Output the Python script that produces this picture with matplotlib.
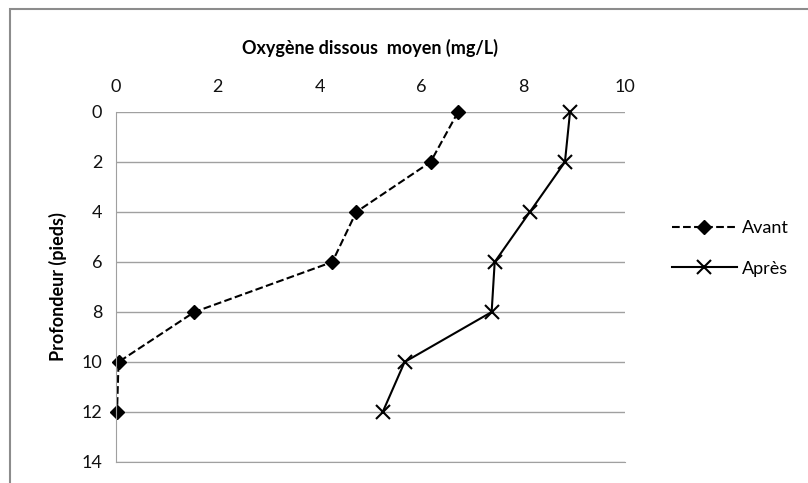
import matplotlib.pyplot as plt
from matplotlib.patches import Rectangle

plt.rcParams['font.family'] = ['Lato', 'DejaVu Sans']

# profondeur (pieds)
depth = [0, 2, 4, 6, 8, 10, 12]
# oxygène dissous moyen (mg/L)
avant = [6.72, 6.18, 4.72, 4.25, 1.54, 0.05, 0.02]
apres = [8.92, 8.82, 8.13, 7.44, 7.38, 5.67, 5.24]

x_ticks = [0, 2, 4, 6, 8, 10]
y_ticks = [0, 2, 4, 6, 8, 10, 12, 14]

fig = plt.figure(figsize=(8.08, 4.83), dpi=100)
fig.patches.append(Rectangle((10 / 808, -0.1), 1.2, 1 - 9 / 483 + 0.1,
                             transform=fig.transFigure, fill=False,
                             edgecolor='#8c8c8c', linewidth=1.5))

ax = fig.add_axes([116 / 808, 1 - 462 / 483, (625 - 116) / 808, (462 - 112) / 483])

ax.plot(avant, depth, color='black', linestyle='--', linewidth=1.5,
        marker='D', markersize=7, label='Avant', clip_on=False)
ax.plot(apres, depth, color='black', linestyle='-', linewidth=1.5,
        marker='x', markersize=10, markeredgewidth=1.5, label='Après', clip_on=False)

ax.set_xlim(0, 10)
ax.set_ylim(14, 0)
ax.set_xticks(x_ticks)
ax.set_yticks(y_ticks)
ax.xaxis.tick_top()
ax.xaxis.set_label_position('top')
ax.tick_params(length=0, labelsize=13, pad=10, colors='#111111')
ax.tick_params(axis='x', pad=12)
ax.grid(axis='y', color='#a0a0a0', linewidth=1)
ax.set_axisbelow(True)
for s in ['top', 'right']:
    ax.spines[s].set_visible(False)
ax.spines['left'].set_color('#a0a0a0')
ax.spines['bottom'].set_color('#a0a0a0')

ax.set_xlabel('Oxygène dissous  moyen (mg/L)', fontsize=13, fontweight='bold', labelpad=18)
ax.set_ylabel('Profondeur (pieds)', fontsize=13, fontweight='bold', labelpad=10)

ax.legend(loc='center left', bbox_to_anchor=(1.06, 0.61), frameon=False,
          fontsize=13, handlelength=3.6, labelspacing=1.35, handletextpad=0.3)

fig.savefig('out.png', dpi=100)
